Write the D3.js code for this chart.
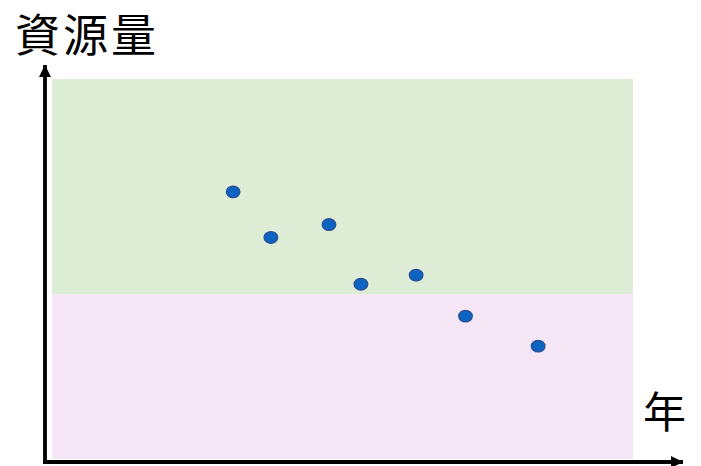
<!DOCTYPE html>
<html>
<head>
<meta charset="utf-8">
<script src="https://cdn.jsdelivr.net/npm/d3@7"></script>
<style>
  html, body { margin: 0; padding: 0; background: #ffffff; }
  svg { display: block; }
</style>
</head>
<body>
<svg id="chart" width="701" height="466"></svg>
<script>
// Observed resource amounts by year (relative units)
const years = [6.2, 7.5, 9.5, 10.6, 12.5, 14.2, 16.7];
const amounts = [70.3, 58.3, 61.7, 46.0, 48.4, 37.6, 29.7];
// Boundary between the healthy zone (above) and the depleted zone (below)
const threshold = 43.3;
const zones = [
  { name: "high", from: threshold, to: 100, color: "#deedd6" },
  { name: "low", from: 0, to: threshold, color: "#f4e6f4" }
];
const axisLabels = { y: "資源量", x: "年" };

const svg = d3.select("#chart");
const fontFamily = "'Noto Sans CJK JP', 'Noto Sans', sans-serif";

const x = d3.scaleLinear().domain([0, 20]).range([53, 634]);
const y = d3.scaleLinear().domain([0, 100]).range([459, 79]);

// Background zones
svg.append("g").selectAll("rect")
  .data(zones)
  .join("rect")
  .attr("x", 52)
  .attr("width", 633 - 52)
  .attr("y", d => y(d.to))
  .attr("height", d => y(d.from) - y(d.to))
  .attr("fill", d => d.color);

// Axis arrows
const defs = svg.append("defs");
defs.append("marker")
  .attr("id", "arrow")
  .attr("viewBox", "0 0 10 10")
  .attr("refX", 10).attr("refY", 5)
  .attr("markerUnits", "userSpaceOnUse")
  .attr("markerWidth", 13).attr("markerHeight", 12)
  .attr("orient", "auto")
  .append("path")
  .attr("d", "M0,0 L10,5 L0,10 Z")
  .attr("fill", "#000");

svg.append("line")
  .attr("x1", 45).attr("y1", 463)
  .attr("x2", 45).attr("y2", 65)
  .attr("stroke", "#000").attr("stroke-width", 3.8)
  .attr("marker-end", "url(#arrow)");

svg.append("line")
  .attr("x1", 43).attr("y1", 462)
  .attr("x2", 683).attr("y2", 462)
  .attr("stroke", "#000").attr("stroke-width", 3.8)
  .attr("marker-end", "url(#arrow)");

// Data points
svg.append("g").selectAll("ellipse")
  .data(years.map((yr, i) => ({ yr, v: amounts[i] })))
  .join("ellipse")
  .attr("cx", d => x(d.yr))
  .attr("cy", d => y(d.v))
  .attr("rx", 6.8)
  .attr("ry", 5.8)
  .attr("fill", "#0b64c2")
  .attr("stroke", "#2c4f95")
  .attr("stroke-width", 1.3);

// Axis titles
svg.append("text")
  .attr("x", 15).attr("y", 52)
  .attr("font-family", fontFamily)
  .attr("font-size", 45)
  .attr("fill", "#000")
  .attr("letter-spacing", 3)
  .text(axisLabels.y);

svg.append("text")
  .attr("x", 643).attr("y", 428)
  .attr("font-family", fontFamily)
  .attr("font-size", 43)
  .attr("fill", "#000")
  .text(axisLabels.x);
</script>
</body>
</html>
